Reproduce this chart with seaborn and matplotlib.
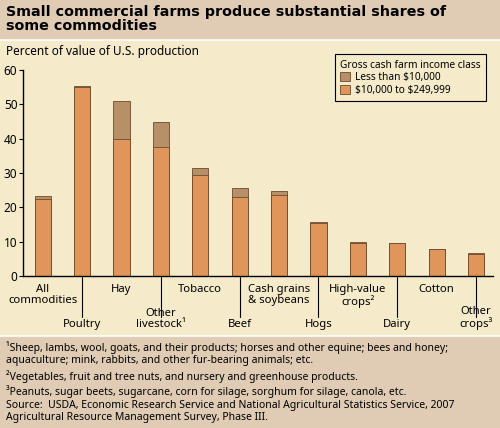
import matplotlib.pyplot as plt
import matplotlib.transforms as mtransforms
from matplotlib.patches import Rectangle
import pandas as pd
import seaborn as sns

categories = ["All\ncommodities", "Poultry", "Hay", "Other\nlivestock¹", "Tobacco", "Beef",
              "Cash grains\n& soybeans", "Hogs", "High-value\ncrops²", "Dairy", "Cotton",
              "Other\ncrops³"]
mid = [22.3, 55.0, 40.0, 37.5, 29.5, 23.0, 23.7, 15.3, 9.5, 9.5, 8.0, 6.3]
total = [23.3, 55.2, 51.0, 45.0, 31.5, 25.5, 24.7, 15.8, 10.0, 9.6, 8.0, 6.6]

sns.set_style("white")
plt.rcParams["font.family"] = ["Noto Sans", "DejaVu Sans"]
plt.rcParams["text.color"] = "black"
plt.rcParams["ytick.color"] = "black"

orange = "#E0955A"
brown = "#B89068"
panel = "#F5EBCB"
band = "#E0CCB4"

fig = plt.figure(figsize=(5, 4.28), dpi=100)
fig.patch.set_facecolor("white")
# background bands
fig.patches.append(Rectangle((0, 1 - 38 / 428), 1, 38 / 428, transform=fig.transFigure, color=band, zorder=-2))
fig.patches.append(Rectangle((0, 1 - 334 / 428), 1, 293 / 428, transform=fig.transFigure, color=panel, zorder=-2))
fig.patches.append(Rectangle((0, 0), 1, 91 / 428, transform=fig.transFigure, color=band, zorder=-2))

fig.text(0.012, 1 - 19 / 428, "Small commercial farms produce substantial shares of\nsome commodities",
         fontsize=10.3, fontweight="bold", family="DejaVu Sans", va="center", linespacing=1.0)
fig.text(0.012, 1 - 52 / 428, "Percent of value of U.S. production", fontsize=8.5, va="center")

ax = fig.add_axes([0.046, 1 - 276 / 428, 0.94, 206 / 428])
ax.set_facecolor("none")

df = pd.DataFrame({"cat": categories, "mid": mid, "total": total})
sns.barplot(data=df, x="cat", y="total", color=brown, width=0.41, edgecolor="#6a4a30",
            linewidth=0.6, ax=ax, label="Less than \\$10,000", saturation=1)
sns.barplot(data=df, x="cat", y="mid", color=orange, width=0.41, edgecolor="#6a4a30",
            linewidth=0.6, ax=ax, label="\\$10,000 to \\$249,999", saturation=1)

ax.set_xlim(-0.5, 11.43)
ax.set_ylim(0, 60)
ax.set_yticks(range(0, 61, 10))
ax.tick_params(axis="y", length=3, width=0.8, color="black", labelsize=8.5, pad=1, direction="out", left=True)
ax.set_xticks([])
ax.set_xlabel("")
ax.set_ylabel("")
for s in ["top", "right"]:
    ax.spines[s].set_visible(False)
for s in ["left", "bottom"]:
    ax.spines[s].set_color("black")
    ax.spines[s].set_linewidth(1)

trans = mtransforms.blended_transform_factory(ax.transData, fig.transFigure)
for i, c in enumerate(categories):
    if i % 2 == 0:
        ax.text(i, 1 - 284 / 428, c, transform=trans, ha="center", va="top", fontsize=8.1, linespacing=1.0)
    else:
        ax.plot([i, i], [1 - 277 / 428, 1 - 317 / 428], transform=trans, color="black", lw=0.8, clip_on=False)
        ax.text(i, 1 - 330 / 428, c, transform=trans, ha="center", va="bottom", fontsize=8.1, linespacing=1.0)

leg = ax.legend(title="Gross cash farm income class", loc="upper right", bbox_to_anchor=(0.995, 1.1),
                fontsize=7.3, title_fontsize=7.3, frameon=True, fancybox=False, edgecolor="black",
                facecolor=panel, framealpha=1,
                handlelength=1.0, handleheight=1.0, borderpad=0.5, labelspacing=0.15, handletextpad=0.5)
leg.get_frame().set_linewidth(0.8)
leg._legend_box.align = "left"

fs = 7.5
fig.text(0.012, 1 - 341 / 428, "¹Sheep, lambs, wool, goats, and their products; horses and other equine; bees and honey;\n"
         "aquaculture; mink, rabbits, and other fur-bearing animals; etc.", fontsize=fs, va="top", linespacing=1.15)
fig.text(0.012, 1 - 370 / 428, "²Vegetables, fruit and tree nuts, and nursery and greenhouse products.",
         fontsize=fs, va="top")
fig.text(0.012, 1 - 385 / 428, "³Peanuts, sugar beets, sugarcane, corn for silage, sorghum for silage, canola, etc.",
         fontsize=fs, va="top")
fig.text(0.012, 1 - 400 / 428, "Source:  USDA, Economic Research Service and National Agricultural Statistics Service, 2007\n"
         "Agricultural Resource Management Survey, Phase III.", fontsize=fs, va="top", linespacing=1.15)

fig.savefig("out.png", dpi=100)
